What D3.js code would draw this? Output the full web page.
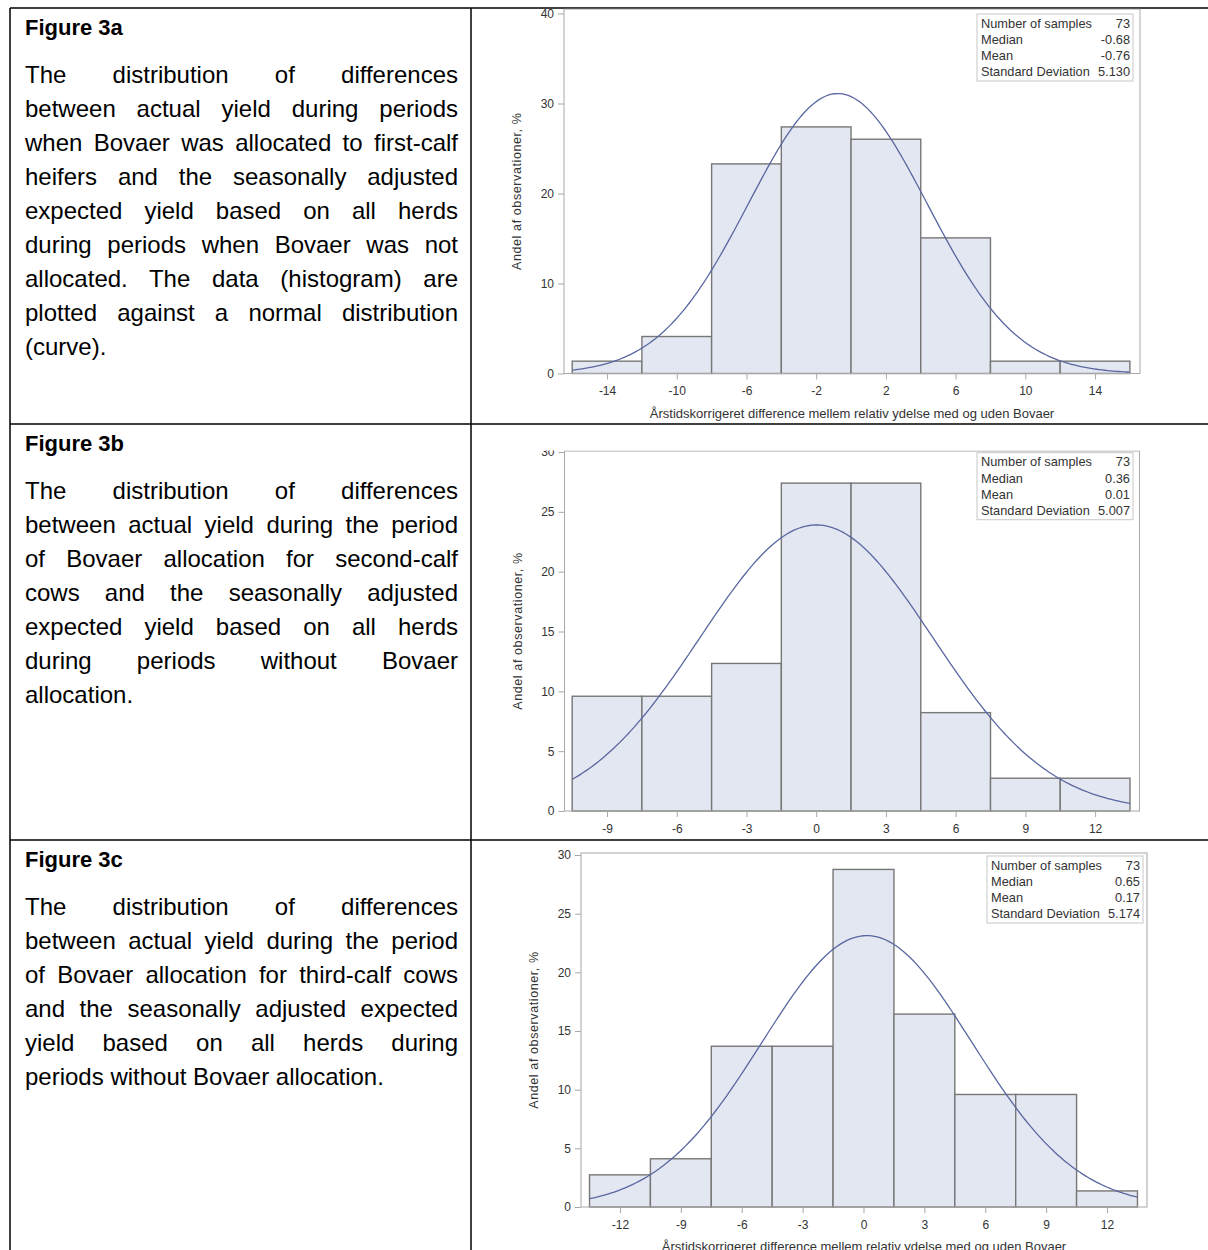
<!DOCTYPE html>
<html>
<head>
<meta charset="utf-8">
<script src="https://cdn.jsdelivr.net/npm/d3@7"></script>
<style>
body{margin:0;background:#fff;}
#page{position:relative;width:1208px;height:1250px;overflow:hidden;font-family:Arial,"Liberation Sans",sans-serif;}
#chart{position:absolute;left:0;top:0;}
.head{position:absolute;left:25px;font-size:22px;font-weight:bold;line-height:34px;color:#000;white-space:nowrap;}
.line{position:absolute;left:25px;width:433px;font-size:24px;line-height:34px;color:#000;text-align:justify;text-align-last:justify;}
.line.last{text-align:left;text-align-last:left;}
</style>
</head>
<body>
<div id="page"><svg id="chart" width="1208" height="1250"></svg></div>
<script>
// ---- text in the left column
const figureTitles = ['Figure 3a', 'Figure 3b', 'Figure 3c']
const captionA = [
  'The distribution of differences',
  'between actual yield during periods',
  'when Bovaer was allocated to first-calf',
  'heifers and the seasonally adjusted',
  'expected yield based on all herds',
  'during periods when Bovaer was not',
  'allocated. The data (histogram) are',
  'plotted against a normal distribution',
  '(curve).'
]
const captionB = [
  'The distribution of differences',
  'between actual yield during the period',
  'of Bovaer allocation for second-calf',
  'cows and the seasonally adjusted',
  'expected yield based on all herds',
  'during periods without Bovaer',
  'allocation.'
]
const captionC = [
  'The distribution of differences',
  'between actual yield during the period',
  'of Bovaer allocation for third-calf cows',
  'and the seasonally adjusted expected',
  'yield based on all herds during',
  'periods without Bovaer allocation.'
]

// ---- chart data
const xTitle = 'Årstidskorrigeret difference mellem relativ ydelse med og uden Bovaer'
const yTitle = 'Andel af observationer, %'
const statLabels = ['Number of samples', 'Median', 'Mean', 'Standard Deviation']

const binEdgesA = [-16, -12, -8, -4, 0, 4, 8, 12, 16]
const percentA = [1.37, 4.11, 23.29, 27.40, 26.03, 15.07, 1.37, 1.37]
const xTicksA = [-14, -10, -6, -2, 2, 6, 10, 14]
const yTicksA = [0, 10, 20, 30, 40]
const statsA = ['73', '-0.68', '-0.76', '5.130']
const normalA = [-0.76, 5.130] // mean, sd

const binEdgesB = [-10.5, -7.5, -4.5, -1.5, 1.5, 4.5, 7.5, 10.5, 13.5]
const percentB = [9.59, 9.59, 12.33, 27.40, 27.40, 8.22, 2.74, 2.74]
const xTicksB = [-9, -6, -3, 0, 3, 6, 9, 12]
const yTicksB = [0, 5, 10, 15, 20, 25, 30]
const statsB = ['73', '0.36', '0.01', '5.007']
const normalB = [0.01, 5.007]

const binEdgesC = [-13.5, -10.5, -7.5, -4.5, -1.5, 1.5, 4.5, 7.5, 10.5, 13.5]
const percentC = [2.74, 4.11, 13.70, 13.70, 28.77, 16.44, 9.59, 9.59, 1.37]
const xTicksC = [-12, -9, -6, -3, 0, 3, 6, 9, 12]
const yTicksC = [0, 5, 10, 15, 20, 25, 30]
const statsC = ['73', '0.65', '0.17', '5.174']
const normalC = [0.17, 5.174]

// ---- layout
const rowTops = [8, 424, 840]
const captions = [captionA, captionB, captionC]
const panels = [
  {edges: binEdgesA, pct: percentA, xTicks: xTicksA, yTicks: yTicksA, stats: statsA, norm: normalA,
   left: 564, right: 1140, frameTop: 9, bottom: 373.5, xDom: [-16.47, 16.58], yTopPx: 13.5,
   box: [977, 14], clip: [8.5, 423]},
  {edges: binEdgesB, pct: percentB, xTicks: xTicksB, yTicks: yTicksB, stats: statsB, norm: normalB,
   left: 564.5, right: 1139.5, frameTop: 451, bottom: 811, xDom: [-10.83, 13.91], yTopPx: 452,
   box: [977, 452.7], clip: [450.5, 837]},
  {edges: binEdgesC, pct: percentC, xTicks: xTicksC, yTicks: yTicksC, stats: statsC, norm: normalC,
   left: 581, right: 1147, frameTop: 853, bottom: 1207, xDom: [-13.92, 13.97], yTopPx: 855,
   box: [987, 856], clip: [841, 1250]}
]

const svg = d3.select('#chart')
const page = d3.select('#page')

// table rules
const rules = svg.append('g').attr('stroke', '#000').attr('stroke-width', 1.5)
rowTops.forEach(t => rules.append('line').attr('x1', 10).attr('x2', 1208).attr('y1', t).attr('y2', t))
;[10, 471].forEach(v => rules.append('line').attr('x1', v).attr('x2', v).attr('y1', 8).attr('y2', 1250))

// captions
rowTops.forEach((t, r) => {
  page.append('div').attr('class', 'head').style('top', (t + 28 - 24.6) + 'px').text(figureTitles[r])
  captions[r].forEach((s, i) => {
    page.append('div')
      .attr('class', i === captions[r].length - 1 ? 'line last' : 'line')
      .style('top', (t + 75.5 - 25.3 + i * 34) + 'px')
      .text(s)
  })
})

const defs = svg.append('defs')

const drawPanel = (p, k) => {
  defs.append('clipPath').attr('id', 'clip' + k).append('rect')
    .attr('x', 472).attr('y', p.clip[0]).attr('width', 736).attr('height', p.clip[1] - p.clip[0])
  const g = svg.append('g').attr('clip-path', `url(#clip${k})`)
    .style('font-family', 'Arial, "Liberation Sans", sans-serif')

  const yMax = p.yTicks[p.yTicks.length - 1]
  const xScale = d3.scaleLinear().domain(p.xDom).range([p.left, p.right])
  const yScale = d3.scaleLinear().domain([0, yMax]).range([p.bottom, p.yTopPx])

  // bars
  g.selectAll('rect.bar').data(p.pct).join('rect').attr('class', 'bar')
    .attr('x', (d, i) => xScale(p.edges[i]))
    .attr('width', (d, i) => xScale(p.edges[i + 1]) - xScale(p.edges[i]))
    .attr('y', d => yScale(d))
    .attr('height', d => yScale(0) - yScale(d))
    .attr('fill', '#e3e7f1').attr('stroke', '#777').attr('stroke-width', 1.4)

  // fitted normal curve (from the mean and sd in the inset)
  const [mu, sd] = p.norm
  const bw = p.edges[1] - p.edges[0]
  const lo = p.edges[0], hi = p.edges[p.edges.length - 1]
  const xs = d3.range(0, 201).map(i => lo + (hi - lo) * i / 200)
  const dens = v => 100 * bw * Math.exp(-0.5 * ((v - mu) / sd) ** 2) / (sd * Math.sqrt(2 * Math.PI))
  g.append('path').datum(xs)
    .attr('d', d3.line().x(v => xScale(v)).y(v => yScale(dens(v))))
    .attr('fill', 'none').attr('stroke', '#5a67a0').attr('stroke-width', 1.3)

  // frame
  g.append('rect').attr('x', p.left).attr('y', p.frameTop)
    .attr('width', p.right - p.left).attr('height', p.bottom - p.frameTop)
    .attr('fill', 'none').attr('stroke', '#a8a8a8').attr('stroke-width', 1)

  // axes (plain hyphen minus, as in the source)
  const xAxis = g.append('g').attr('transform', `translate(0,${p.bottom})`)
    .call(d3.axisBottom(xScale).tickValues(p.xTicks).tickSize(6).tickPadding(7.2).tickFormat(d => String(d)))
  const yAxis = g.append('g').attr('transform', `translate(${p.left},0)`)
    .call(d3.axisLeft(yScale).tickValues(p.yTicks).tickSize(6).tickPadding(4).tickFormat(d => String(d)))
  ;[xAxis, yAxis].forEach(a => {
    a.select('.domain').remove()
    a.selectAll('line').attr('stroke', '#a8a8a8')
    a.selectAll('text').attr('fill', '#333').style('font-size', '12px')
      .style('font-family', 'Arial, "Liberation Sans", sans-serif')
  })

  // axis titles
  g.append('text').attr('x', (p.left + p.right) / 2).attr('y', p.bottom + 44)
    .attr('text-anchor', 'middle').attr('fill', '#333').style('font-size', '13px').text(xTitle)
  g.append('text')
    .attr('transform', `translate(${p.left - 43},${(p.frameTop + p.bottom) / 2}) rotate(-90)`)
    .attr('text-anchor', 'middle').attr('fill', '#333').style('font-size', '12.5px')
    .style('letter-spacing', '0.6px').text(yTitle)

  // inset with summary statistics
  const [bx, by] = p.box
  const bwid = 156, bh = 67
  const box = g.append('g')
  box.append('rect').attr('x', bx).attr('y', by).attr('width', bwid).attr('height', bh)
    .attr('fill', '#fff').attr('stroke', '#c8c8c8')
  statLabels.forEach((s, i) => {
    box.append('text').attr('x', bx + 4).attr('y', by + 13.5 + i * 16.3)
      .attr('fill', '#333').style('font-size', '12.8px').text(s)
    box.append('text').attr('x', bx + bwid - 3).attr('y', by + 13.5 + i * 16.3)
      .attr('text-anchor', 'end').attr('fill', '#333').style('font-size', '12.8px').text(p.stats[i])
  })
}

panels.forEach(drawPanel)
</script>
</body>
</html>
